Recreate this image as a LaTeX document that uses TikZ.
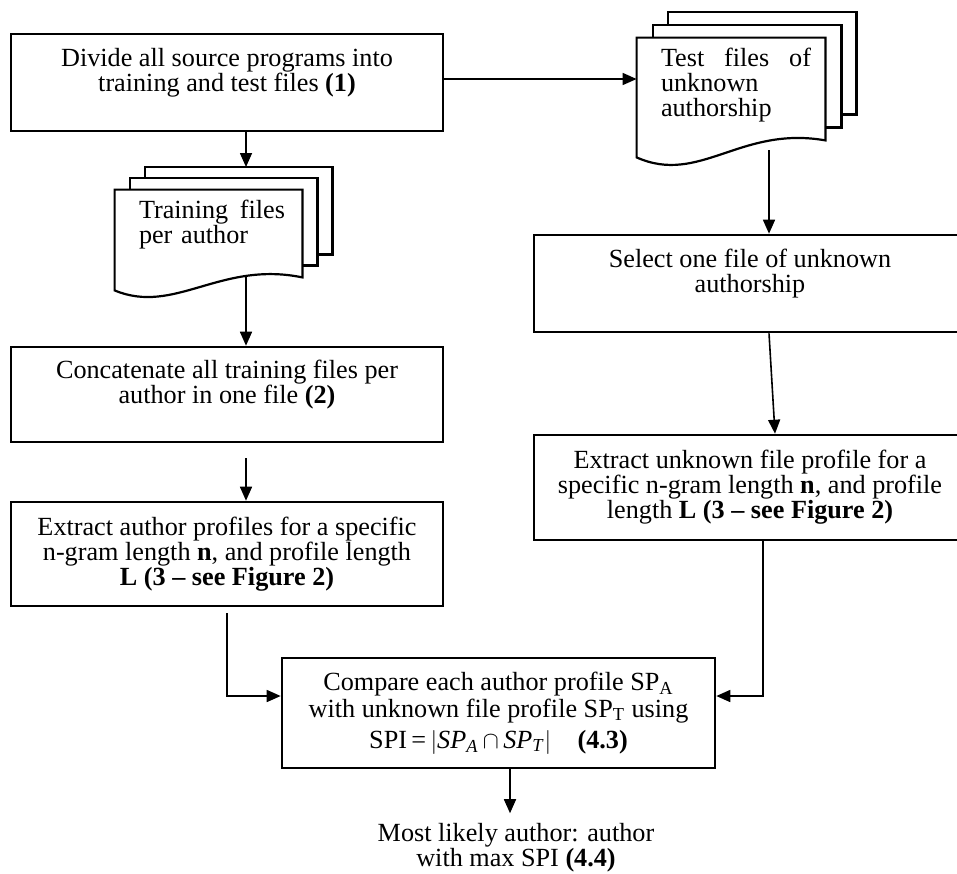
\documentclass[tikz,border=0pt]{standalone}
\usepackage{fontspec}
\setmainfont{Liberation Serif}
\usetikzlibrary{arrows.meta,calc,backgrounds}

\begin{document}
\begin{tikzpicture}[%
    x=0.5pt,y=-0.5pt,
    every node/.style={
        font=\fontsize{13.1}{12.5}\selectfont,
    },
    procbox/.style={draw,line width=1.3pt,minimum width=216pt,align=center,inner sep=2pt},
    flow/.style={line width=0.8pt,-{Triangle[length=7pt,width=6pt]}},
    page/.style={draw,line width=1.1pt,fill=white},
    pagetext/.style={anchor=north west,text width=75pt,align=left,inner sep=0pt},
]
\useasboundingbox (0,0) rectangle (957,873);

% left column of steps
\node[procbox,minimum height=48.5pt] (divide) at (227,82.5)
    {Divide all source programs into\\training and test files \textbf{(1)}\\\mbox{}};
\node[procbox,minimum height=47.5pt] (concat) at (227,394.5)
    {Concatenate all training files per\\author in one file \textbf{(2)}\\\mbox{}};
\node[procbox,minimum height=52pt] (extractA) at (227,554)
    {Extract author profiles for a specific\\n-gram length \textbf{n}, and profile length\\\textbf{L (3 -- see Figure 2)}};

% right column of steps
\node[procbox,minimum height=48.5pt] (select) at (750,283.5)
    {Select one file of unknown\\authorship\\\mbox{}};
\node[procbox,minimum height=52.5pt] (extractT) at (750,487.5)
    {Extract unknown file profile for a\\specific n-gram length \textbf{n}, and profile\\length \textbf{L (3 -- see Figure 2)}};

% comparison and result
\node[procbox,minimum width=216.5pt,minimum height=55pt] (compare) at (498.5,713)
    {Compare each author profile SP\textsubscript{A}\\[1pt]
     with unknown file profile SP\textsubscript{T} using\\[3pt]
     SPI\,=\,$\bigl|$\textit{SP}\textsubscript{\textit{A}}\,$\cap$\,\textit{SP}\textsubscript{\textit{T}}$\bigr|$\quad\textbf{(4.3)}};
\node[align=center,inner sep=5pt] (result) at (516,848)
    {Most likely author: author\\with max SPI \textbf{(4.4)}};

% document stacks (front page only, outlines go on the background)
\node[minimum width=94pt,minimum height=51pt,inner sep=0pt] (testdocs) at (731,89) {};
\node[minimum width=93.5pt,minimum height=43.5pt,inner sep=0pt] (traindocs) at (208.5,233.5) {};

\begin{scope}[on background layer]
    \foreach \dx/\dy in {31/-26,16/-13}{
        \draw[page] ([shift={(\dx,\dy)}]testdocs.south west) rectangle ([shift={(\dx,\dy)}]testdocs.north east);
    }
    \draw[page] (testdocs.north west) -- ([yshift=-8.5pt]testdocs.south west)
        .. controls +(63,28) and +(-85,-15) .. (testdocs.south east) -- (testdocs.north east) -- cycle;

    \foreach \dx/\dy in {30/-23,15/-12}{
        \draw[page] ([shift={(\dx,\dy)}]traindocs.south west) rectangle ([shift={(\dx,\dy)}]traindocs.north east);
    }
    \draw[page] (traindocs.north west) -- ([yshift=-6.5pt]traindocs.south west)
        .. controls +(60,25) and +(-82,-17) .. (traindocs.south east) -- (traindocs.north east) -- cycle;
\end{scope}

\node[pagetext] (testtext) at ([shift={(24,10)}]testdocs.north west)
    {\hbox to 75pt{Test\hfill files\hfill of}\\unknown\\authorship};
\node[pagetext] (traintext) at ([shift={(24,10)}]traindocs.north west)
    {\hbox to 73pt{Training\hfill files}\\per author};

% connectors, left side
\coordinate (trainin) at (246,167);
\draw[flow] (divide.south -| trainin) -- (trainin);
\draw[flow] (trainin |- traindocs.south) -- (trainin |- concat.north);
\draw[flow] ($(concat.south -| trainin)+(0,15)$) -- (trainin |- extractA.north);
\draw[flow] ($(extractA.south)+(0,6)$) |- ($(compare.west)+(0,-17)$);

% connectors, right side
\draw[flow] ($(divide.east)+(0,-3.5)$) -- ($(divide.east -| testdocs.west)+(0,-3.5)$);
\coordinate (testout) at (769,150);
\draw[flow] (testout) -- (testout |- select.north);
\draw[flow] ($(select.south)+(19,0)$) -- ($(extractT.north)+(25,0)$);
\draw[flow] ($(extractT.south)+(13,0)$) |- ($(compare.east)+(0,-17)$);

% to the result
\coordinate (cmpout) at ($(compare.south)+(11.5,0)$);
\draw[flow] (cmpout) -- (cmpout |- result.north);
\end{tikzpicture}
\end{document}
